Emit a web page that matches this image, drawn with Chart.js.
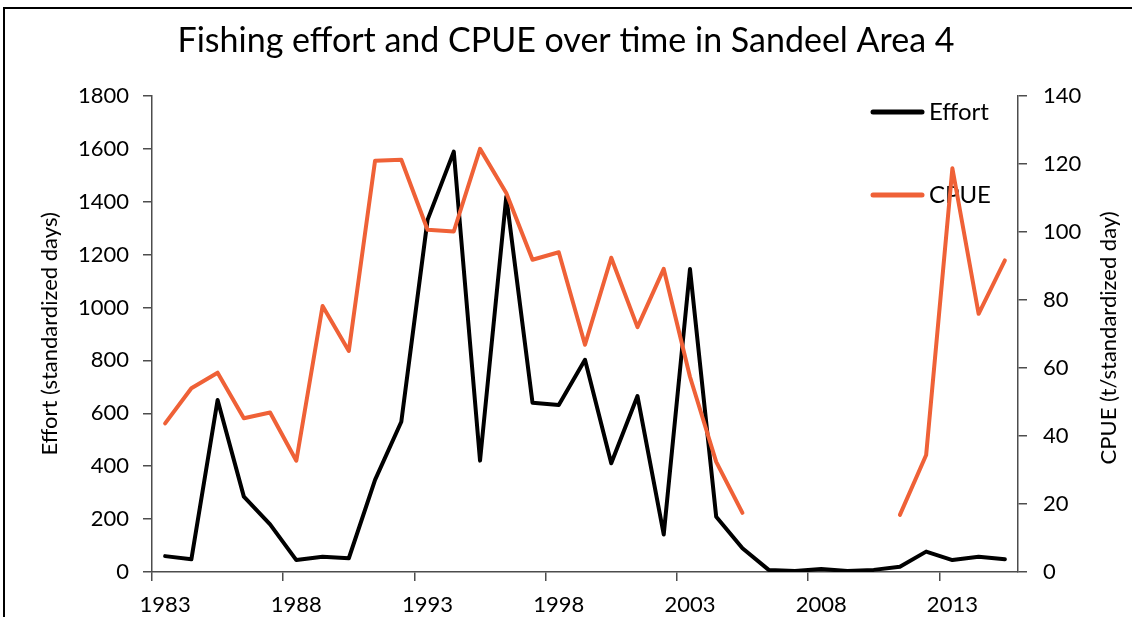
<!DOCTYPE html>
<html>
<head>
<meta charset="utf-8">
<script src="https://cdn.jsdelivr.net/npm/chart.js@4.4.1/dist/chart.umd.min.js"></script>
<style>
  html, body { margin: 0; padding: 0; background: #fff; overflow: hidden; }
  #frame { position: absolute; left: 3px; top: 7px; width: 1300px; height: 800px;
           border-left: 2px solid #000; border-top: 2px solid #000; }
  #myChart { position: absolute; left: 0; top: 0; }
</style>
</head>
<body>
<div id="frame"></div>
<canvas id="myChart" width="1132" height="617"></canvas>
<script>
// years on the category axis
var years = ['1983', '1984', '1985', '1986', '1987', '1988', '1989', '1990', '1991', '1992',
             '1993', '1994', '1995', '1996', '1997', '1998', '1999', '2000', '2001', '2002',
             '2003', '2004', '2005', '2006', '2007', '2008', '2009', '2010', '2011', '2012',
             '2013', '2014', '2015'];

// Effort (standardized days), left axis
var effort = [60, 48, 650, 285, 180, 45, 58, 52, 348, 568,
              1331, 1589, 421, 1419, 640, 631, 802, 411, 665, 142,
              1145, 209, 90, 8, 4, 11, 4, 8, 20, 77,
              45, 58, 48];

// CPUE (t/standardized day), right axis - gap 2006-2010
var cpue = [43.7, 54.0, 58.6, 45.2, 46.9, 32.7, 78.2, 65.0, 120.9, 121.2,
            100.6, 100.1, 124.4, 111.4, 91.8, 94.0, 66.8, 92.4, 72.0, 89.1,
            57.4, 32.4, 17.4, null, null, null, null, null, 16.8, 34.4,
            118.7, 75.9, 91.6];

var effortTicks = { min: 0, max: 1800, step: 200 };
var cpueTicks = { min: 0, max: 140, step: 20 };

var axisColor = '#4d4d4d';
var textColor = '#000';
var tickFont = { family: 'Lato', size: 22 };

// legend drawn inside the plot, top right, like the excel one
var legendPos = [112, 195];
var sideLegend = {
  id: 'sideLegend',
  beforeDatasetsDraw: function(chart) {
    var c = chart.ctx;
    c.save();
    chart.data.datasets.forEach(function(ds, i) {
      var y = legendPos[i];
      c.strokeStyle = ds.borderColor;
      c.lineWidth = 5;
      c.lineCap = 'round';
      c.beginPath();
      c.moveTo(873, y);
      c.lineTo(922, y);
      c.stroke();
      c.fillStyle = textColor;
      c.font = '24px Lato';
      c.textBaseline = 'middle';
      c.fillText(ds.label, 929, y);
    });
    c.restore();
  },
  afterDraw: function(chart) {
    // right axis title reads bottom to top, chart.js would flip it
    var c = chart.ctx;
    var area = chart.chartArea;
    c.save();
    c.translate(1109, (area.top + area.bottom) / 2 + 4);
    c.rotate(-Math.PI / 2);
    c.fillStyle = textColor;
    c.font = '22px Lato';
    c.textAlign = 'center';
    c.textBaseline = 'middle';
    c.fillText('CPUE (t/standardized day)', 0, 0);
    c.restore();
  }
};

function plainNumber(v) { return String(v); }

var ctx = document.getElementById('myChart').getContext('2d');
var myChart = new Chart(ctx, {
  type: 'line',
  data: {
    labels: years,
    datasets: [{
      label: 'Effort',
      data: effort,
      yAxisID: 'y',
      borderColor: '#000000',
      order: 1
    }, {
      label: 'CPUE',
      data: cpue,
      yAxisID: 'y1',
      borderColor: '#ef6137',
      order: 0
    }]
  },
  options: {
    responsive: false,
    animation: false,
    spanGaps: false,
    layout: { padding: 0 },
    elements: {
      line: { borderWidth: 4, tension: 0, borderJoinStyle: 'round', borderCapStyle: 'round' },
      point: { radius: 0, hoverRadius: 0 }
    },
    plugins: {
      legend: { display: false },
      tooltip: { enabled: false },
      title: {
        display: true,
        text: 'Fishing effort and CPUE over time in Sandeel Area 4',
        color: textColor,
        font: { family: 'Lato', size: 34, weight: 'normal' },
        padding: { top: 21, bottom: 34 }
      }
    },
    scales: {
      x: {
        offset: true,
        grid: {
          offset: true,
          drawOnChartArea: false,
          tickLength: 9,
          lineWidth: 1.5,
          color: function(c) { return c.index % 5 === 0 ? axisColor : 'transparent'; }
        },
        border: { color: axisColor, width: 1.5 },
        ticks: {
          autoSkip: false,
          maxRotation: 0,
          padding: 11,
          color: textColor,
          font: tickFont,
          callback: function(v, i) { return i % 5 === 0 ? this.getLabelForValue(v) : ''; }
        },
        afterFit: function(s) { s.height = 45; }
      },
      y: {
        position: 'left',
        min: effortTicks.min,
        max: effortTicks.max,
        ticks: { stepSize: effortTicks.step, padding: 14, color: textColor, font: tickFont, callback: plainNumber },
        grid: { drawOnChartArea: false, tickLength: 9, lineWidth: 1.5, color: axisColor },
        border: { color: axisColor, width: 1.5 },
        title: {
          display: true,
          text: 'Effort (standardized days)',
          color: textColor,
          font: { family: 'Lato', size: 22 },
          padding: { top: 37 }
        },
        afterFit: function(s) { s.width = 152; }
      },
      y1: {
        position: 'right',
        min: cpueTicks.min,
        max: cpueTicks.max,
        ticks: { stepSize: cpueTicks.step, padding: 16, color: textColor, font: tickFont, callback: plainNumber },
        grid: { drawOnChartArea: false, tickLength: 9, lineWidth: 1.5, color: axisColor },
        border: { color: axisColor, width: 1.5 },
        afterFit: function(s) { s.width = 114; }
      }
    }
  },
  plugins: [sideLegend]
});
</script>
</body>
</html>
